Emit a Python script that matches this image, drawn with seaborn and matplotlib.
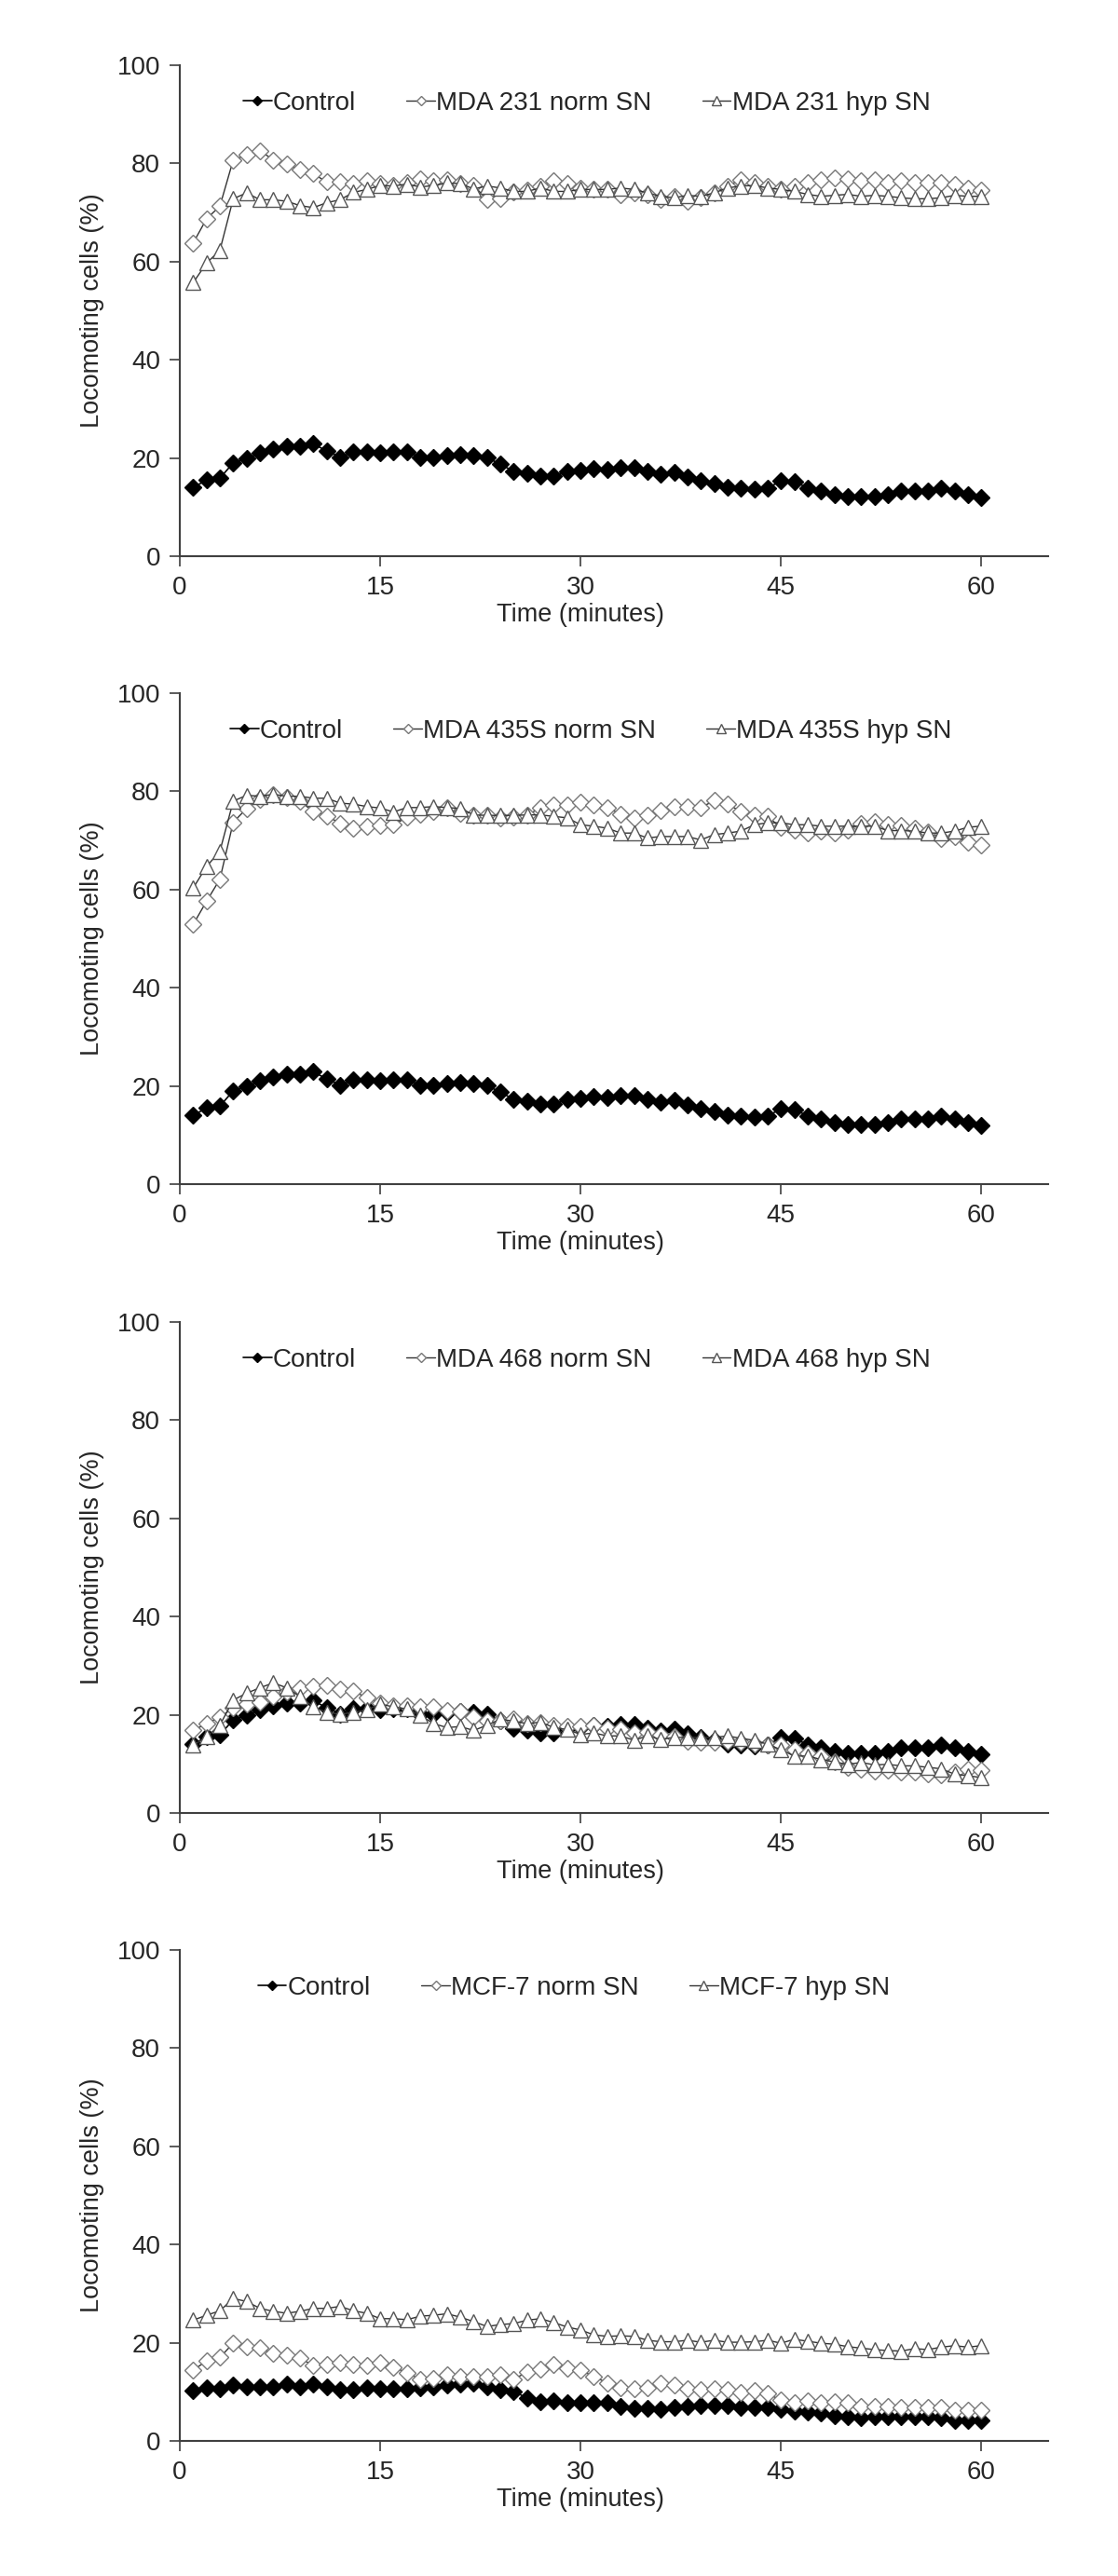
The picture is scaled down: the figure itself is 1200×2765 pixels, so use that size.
import numpy as np
import pandas as pd
import matplotlib
matplotlib.use("Agg")
import matplotlib.pyplot as plt
import seaborn as sns

time_min = list(range(1, 61))

control = [14.0, 15.5, 15.9, 19.0, 19.9, 21.0, 21.9, 22.4, 22.4, 22.9,
           21.4, 20.2, 21.2, 21.2, 21.0, 21.3, 21.3, 20.2, 20.2, 20.4,
           20.7, 20.5, 20.1, 18.7, 17.3, 16.8, 16.3, 16.3, 17.2, 17.5,
           17.8, 17.6, 18.1, 18.0, 17.2, 16.7, 17.0, 16.2, 15.3, 14.8,
           14.1, 13.8, 13.6, 13.9, 15.3, 15.2, 13.9, 13.3, 12.6, 12.1,
           12.1, 12.1, 12.6, 13.3, 13.3, 13.3, 13.8, 13.3, 12.6, 11.9]

mda231_norm = [63.8, 68.7, 71.3, 80.7, 81.7, 82.6, 80.7, 79.8, 78.8, 77.9,
               76.2, 76.2, 75.9, 76.4, 75.9, 75.5, 76.0, 76.9, 76.4, 76.7,
               75.9, 75.5, 72.6, 72.8, 74.1, 74.6, 75.4, 76.4, 75.9, 75.0,
               74.7, 74.7, 73.7, 74.0, 73.7, 72.6, 73.2, 72.3, 73.0, 74.0,
               75.4, 76.7, 76.0, 75.4, 74.7, 75.4, 76.0, 76.7, 77.0, 76.8,
               76.4, 76.7, 76.0, 76.4, 76.0, 76.0, 76.0, 75.7, 75.0, 74.5]
mda231_hyp = [55.7, 59.7, 62.3, 72.8, 74.0, 72.6, 72.6, 72.3, 71.4, 71.0,
              72.0, 72.6, 74.1, 74.7, 75.5, 75.4, 75.8, 75.2, 75.5, 76.0,
              75.9, 74.8, 75.4, 75.0, 74.3, 74.3, 75.0, 74.3, 74.3, 74.7,
              74.7, 74.7, 75.0, 74.7, 74.0, 73.3, 73.0, 73.5, 73.3, 74.0,
              75.0, 75.4, 75.5, 75.0, 74.7, 74.3, 73.7, 73.3, 73.5, 73.7,
              73.3, 73.5, 73.3, 73.0, 72.8, 72.8, 73.0, 73.5, 73.3, 73.3]

mda435_norm = [52.9, 57.6, 62.1, 73.7, 76.5, 78.3, 79.3, 78.8, 78.0, 75.9,
               75.0, 73.5, 72.4, 72.9, 73.0, 73.2, 74.7, 75.4, 75.9, 76.6,
               75.6, 75.2, 75.1, 74.6, 74.7, 75.2, 76.6, 77.3, 77.3, 77.8,
               77.3, 76.6, 75.4, 74.5, 75.2, 76.0, 76.9, 76.9, 76.7, 78.1,
               77.4, 75.9, 75.2, 74.9, 72.6, 72.2, 71.5, 72.0, 71.5, 72.2,
               73.5, 73.9, 73.2, 73.1, 72.5, 71.8, 70.4, 70.8, 69.6, 69.1]
mda435_hyp = [60.3, 64.7, 67.8, 78.0, 79.2, 79.0, 79.4, 79.0, 79.0, 78.6,
              78.6, 77.6, 77.4, 76.9, 76.6, 75.8, 76.7, 76.7, 76.9, 76.7,
              76.5, 75.2, 75.1, 75.1, 75.1, 75.2, 75.2, 74.9, 74.6, 73.2,
              72.9, 72.5, 71.5, 71.5, 70.5, 70.8, 70.8, 70.8, 70.1, 71.2,
              71.5, 71.9, 73.2, 73.6, 73.6, 73.2, 73.2, 72.9, 72.9, 72.9,
              72.9, 72.9, 72.0, 72.0, 71.9, 71.5, 71.5, 71.9, 72.7, 72.9]

mda468_norm = [16.8, 18.2, 19.5, 21.4, 22.2, 22.6, 23.7, 24.6, 25.5, 25.8,
               26.0, 25.2, 24.8, 23.5, 22.4, 21.9, 21.9, 21.6, 21.6, 20.9,
               20.7, 19.5, 18.7, 18.7, 19.2, 18.2, 18.4, 17.9, 17.6, 17.6,
               17.9, 17.3, 17.0, 16.3, 16.6, 16.0, 15.5, 14.6, 14.5, 14.5,
               14.7, 14.5, 14.0, 13.8, 13.8, 12.9, 12.2, 11.6, 10.4, 9.3,
               9.0, 8.6, 8.7, 8.4, 8.3, 7.9, 7.8, 8.4, 8.9, 8.7]
mda468_hyp = [13.8, 15.5, 17.9, 23.0, 24.4, 25.5, 26.5, 25.5, 23.7, 21.6,
              20.5, 20.1, 20.5, 21.0, 22.2, 21.6, 21.2, 19.9, 18.2, 17.4,
              17.6, 16.8, 17.9, 19.1, 18.7, 18.2, 18.5, 17.4, 17.0, 16.0,
              16.3, 15.7, 15.7, 14.8, 15.7, 15.0, 15.4, 15.4, 15.4, 15.4,
              15.7, 15.2, 14.8, 14.0, 12.9, 11.6, 11.6, 10.9, 10.4, 9.9,
              10.3, 9.8, 9.9, 9.6, 9.6, 9.3, 9.0, 7.9, 7.6, 7.2]

mcf7_control = [10.2, 10.9, 10.6, 11.4, 11.0, 11.0, 11.0, 11.5, 11.0, 11.5,
                11.0, 10.4, 10.4, 10.9, 10.6, 10.6, 10.6, 10.9, 11.0, 11.4,
                11.5, 11.7, 11.0, 10.4, 10.1, 8.7, 7.9, 8.1, 7.7, 7.7,
                7.7, 7.7, 7.1, 6.6, 6.6, 6.4, 6.9, 7.1, 7.3, 7.3,
                7.3, 6.8, 6.8, 6.9, 6.4, 6.0, 5.8, 5.6, 5.2, 5.0,
                4.7, 4.9, 5.0, 5.0, 4.9, 4.9, 4.7, 4.1, 4.1, 4.1]
mcf7_norm = [14.4, 16.3, 17.0, 19.9, 19.2, 18.9, 17.8, 17.5, 16.9, 15.3,
             15.6, 15.9, 15.5, 15.3, 15.9, 15.0, 13.9, 12.5, 12.7, 13.4,
             13.1, 13.1, 13.1, 13.4, 12.6, 14.0, 14.6, 15.5, 14.8, 14.4,
             13.1, 11.8, 10.9, 10.6, 10.9, 11.7, 11.4, 10.7, 10.4, 10.7,
             10.4, 9.8, 10.2, 9.6, 8.3, 7.7, 8.2, 7.7, 7.9, 7.7,
             7.1, 7.1, 7.1, 6.9, 6.8, 6.9, 6.8, 6.3, 6.2, 6.2]
mcf7_hyp = [24.6, 25.6, 26.5, 29.0, 28.4, 27.0, 26.4, 26.0, 26.4, 27.0,
            27.0, 27.4, 26.5, 26.0, 24.9, 24.9, 24.7, 25.4, 25.6, 25.9,
            25.2, 24.3, 23.3, 23.7, 23.9, 24.6, 24.9, 24.1, 23.2, 22.6,
            21.6, 21.3, 21.4, 21.3, 20.5, 20.2, 20.2, 20.5, 20.1, 20.5,
            20.1, 20.1, 20.2, 20.5, 19.9, 20.7, 20.3, 19.9, 19.7, 19.2,
            18.9, 18.6, 18.4, 18.3, 18.8, 18.6, 19.1, 19.4, 19.1, 19.4]

panels = [
    (control, mda231_norm, mda231_hyp, "MDA 231"),
    (control, mda435_norm, mda435_hyp, "MDA 435S"),
    (control, mda468_norm, mda468_hyp, "MDA 468"),
    (mcf7_control, mcf7_norm, mcf7_hyp, "MCF-7"),
]

sns.set_style("white")
plt.rcParams['font.family'] = ['Liberation Sans', 'DejaVu Sans']
fs = 20

fig = plt.figure(figsize=(12, 27.65), dpi=100)
H = 2765.0
tops = [70, 744, 1419, 2093]
ph = 527
leg_x = [0.073, 0.058, 0.073, 0.09]

for top, lx, (ctrl, norm, hyp, name) in zip(tops, leg_x, panels):
    ax = fig.add_axes([193 / 1200, 1 - (top + ph) / H, 932 / 1200, ph / H])
    df = pd.DataFrame({"t": time_min, "ctrl": ctrl, "norm": norm, "hyp": hyp})
    sns.lineplot(data=df, x="t", y="ctrl", ax=ax, color="black", lw=1.2,
                 marker="D", ms=9, mfc="black", mec="black", mew=1,
                 label="Control", zorder=3)
    sns.lineplot(data=df, x="t", y="norm", ax=ax, color="#333333", lw=1.0,
                 marker="D", ms=9, mfc="white", mec="#777777", mew=1,
                 label=f"{name} norm SN", zorder=4)
    sns.lineplot(data=df, x="t", y="hyp", ax=ax, color="#333333", lw=1.0,
                 marker="^", ms=12, mfc="white", mec="#555555", mew=1,
                 label=f"{name} hyp SN", zorder=5)
    ax.set_xlim(0, 65)
    ax.set_ylim(0, 100)
    ax.set_xticks([0, 15, 30, 45, 60])
    ax.set_yticks(np.arange(0, 101, 20))
    ax.tick_params(axis="both", direction="out", length=8, width=1.2,
                   color="#404040", labelsize=fs, pad=7, left=True, bottom=True)
    for s in ["top", "right"]:
        ax.spines[s].set_visible(False)
    for s in ["left", "bottom"]:
        ax.spines[s].set_color("#404040")
        ax.spines[s].set_linewidth(1.5)
    ax.set_xlabel("Time (minutes)", fontsize=19.5)
    ax.set_ylabel("Locomoting cells (%)", fontsize=19.5)
    ax.xaxis.set_label_coords(30 / 65, -0.095)
    ax.yaxis.set_label_coords(-0.087, 0.5)
    ax.grid(False)
    ax.legend(loc="center left", bbox_to_anchor=(lx, 0.923), ncol=3,
              frameon=False, fontsize=fs, handlelength=1.1,
              handletextpad=0.05, columnspacing=1.95, markerscale=0.6,
              borderaxespad=0, borderpad=0)

fig.savefig("out.png", dpi=100)
